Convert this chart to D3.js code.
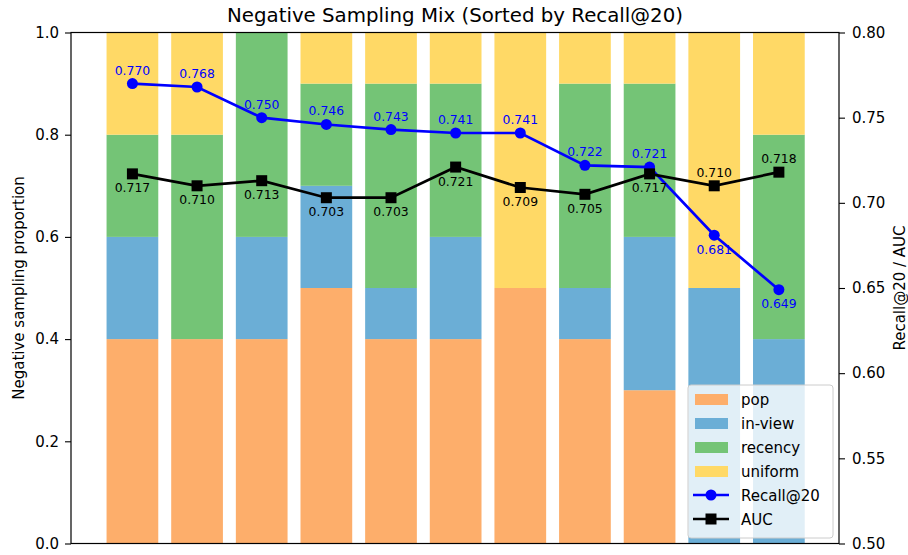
<!DOCTYPE html>
<html><head><meta charset="utf-8">
<script src="https://cdn.jsdelivr.net/npm/d3@7"></script>
<style>body{margin:0;background:#fff;} text{font-family:"DejaVu Sans",sans-serif;}</style>
</head><body><svg id="c" width="908" height="555"></svg>
<script>
const categories = ["c1","c2","c3","c4","c5","c6","c7","c8","c9","c10","c11"];
const pop     = [0.4,0.4,0.4,0.5,0.4,0.4,0.5,0.4,0.3,0.0,0.0];
const inview  = [0.2,0.0,0.2,0.2,0.1,0.2,0.0,0.1,0.3,0.5,0.4];
const recency = [0.2,0.4,0.4,0.2,0.4,0.3,0.0,0.4,0.3,0.0,0.4];
const uniform = [0.2,0.2,0.0,0.1,0.1,0.1,0.5,0.1,0.1,0.5,0.2];
const recall  = [0.770,0.768,0.750,0.746,0.743,0.741,0.741,0.722,0.721,0.681,0.649];
const auc     = [0.717,0.710,0.713,0.703,0.703,0.721,0.709,0.705,0.717,0.710,0.718];
const leftTicks = [0,0.2,0.4,0.6,0.8,1.0];
const rightTicks = [0.50,0.55,0.60,0.65,0.70,0.75,0.80];
const seriesNames = ["pop","in-view","recency","uniform"];
const seriesColors = ["#fdae6b","#6baed6","#74c476","#ffd966"];

const svg = d3.select("#c");
const L=71, R=839, T=32.5, B=543.5;
const x = d3.scaleLinear().domain([-0.95, 10.93]).range([L,R]);
const y = d3.scaleLinear().domain([0,1]).range([B,T]);
const y2 = d3.scaleLinear().domain([0.5,0.8]).range([B,T]);
const bw = 0.8;

const rows = categories.map((c,i)=>({i, pop:pop[i], "in-view":inview[i], recency:recency[i], uniform:uniform[i]}));
const stack = d3.stack().keys(seriesNames)(rows);
stack.forEach((s,k)=>{
  svg.append("g").selectAll("rect").data(s).join("rect")
    .attr("x", d=>x(d.data.i-bw/2)).attr("width", x(bw)-x(0))
    .attr("y", d=>y(d[1])).attr("height", d=>Math.max(0,y(d[0])-y(d[1])))
    .attr("fill", seriesColors[k]);
});

// lines
const lineR = d3.line().x((d,i)=>x(i)).y(d=>y2(d));
svg.append("path").datum(recall).attr("d", lineR).attr("fill","none").attr("stroke","#0000ff").attr("stroke-width",2.7);
svg.append("g").selectAll("circle").data(recall).join("circle")
  .attr("cx",(d,i)=>x(i)).attr("cy",d=>y2(d)).attr("r",5.5).attr("fill","#0000ff");
svg.append("path").datum(auc).attr("d", lineR).attr("fill","none").attr("stroke","#000").attr("stroke-width",2.7);
svg.append("g").selectAll("rect").data(auc).join("rect")
  .attr("x",(d,i)=>x(i)-5.5).attr("y",d=>y2(d)-5.5).attr("width",11).attr("height",11).attr("fill","#000");

// labels
recall.forEach((v,i)=>{
  const above = v >= auc[i];
  svg.append("text").attr("x",x(i)).attr("y", y2(v) + (above ? -9 : 18.5))
    .attr("text-anchor","middle").attr("font-size","12.4px").attr("fill","#0000ff").text(v.toFixed(3));
});
auc.forEach((v,i)=>{
  const below = recall[i] >= v;
  svg.append("text").attr("x",x(i)).attr("y", y2(v) + (below ? 18.5 : -9))
    .attr("text-anchor","middle").attr("font-size","12.4px").attr("fill","#000").text(v.toFixed(3));
});

// axes
const fs = "15px";
const gl = svg.append("g").attr("transform",`translate(${L},0)`)
  .call(d3.axisLeft(y).tickValues(leftTicks).tickFormat(d3.format(".1f")).tickSize(6).tickPadding(6));
const gr = svg.append("g").attr("transform",`translate(${R},0)`)
  .call(d3.axisRight(y2).tickValues(rightTicks).tickFormat(d3.format(".2f")).tickSize(6).tickPadding(7));
[gl,gr].forEach(g=>{
  g.selectAll("text").attr("font-size",fs).attr("fill","#000").attr("font-family","DejaVu Sans");
  g.selectAll("line").attr("stroke","#000").attr("stroke-width",1.1);
  g.select(".domain").remove();
});
svg.append("rect").attr("x",L).attr("y",T).attr("width",R-L).attr("height",B-T)
  .attr("fill","none").attr("stroke","#000").attr("stroke-width",1.2);

// titles
svg.append("text").attr("x",(L+R)/2).attr("y",21.5).attr("text-anchor","middle").attr("font-size","19.8px").text("Negative Sampling Mix (Sorted by Recall@20)");
svg.append("text").attr("transform",`translate(24,${(T+B)/2}) rotate(-90)`).attr("text-anchor","middle").attr("font-size",fs).text("Negative sampling proportion");
svg.append("text").attr("transform",`translate(905,${(T+B)/2}) rotate(-90)`).attr("text-anchor","middle").attr("font-size",fs).text("Recall@20 / AUC");

// legend
const lg = svg.append("g").attr("transform","translate(688,385)");
lg.append("rect").attr("width",145).attr("height",153).attr("rx",3).attr("fill","#fff").attr("fill-opacity",0.8).attr("stroke","#ccc");
seriesNames.forEach((n,k)=>{
  lg.append("rect").attr("x",7).attr("y",14+24*k-5).attr("width",33).attr("height",11).attr("fill",seriesColors[k]);
  lg.append("text").attr("x",53).attr("y",14+24*k+5.5).attr("font-size",fs).text(n);
});
[["Recall@20","#0000ff","c"],["AUC","#000","s"]].forEach(([n,c,m],j)=>{
  const yy = 14+24*(4+j);
  lg.append("line").attr("x1",5).attr("x2",41).attr("y1",yy).attr("y2",yy).attr("stroke",c).attr("stroke-width",2.7);
  if(m==="c") lg.append("circle").attr("cx",23).attr("cy",yy).attr("r",5.5).attr("fill",c);
  else lg.append("rect").attr("x",17.5).attr("y",yy-5.5).attr("width",11).attr("height",11).attr("fill",c);
  lg.append("text").attr("x",53).attr("y",yy+5.5).attr("font-size",fs).text(n);
});
</script></body></html>
